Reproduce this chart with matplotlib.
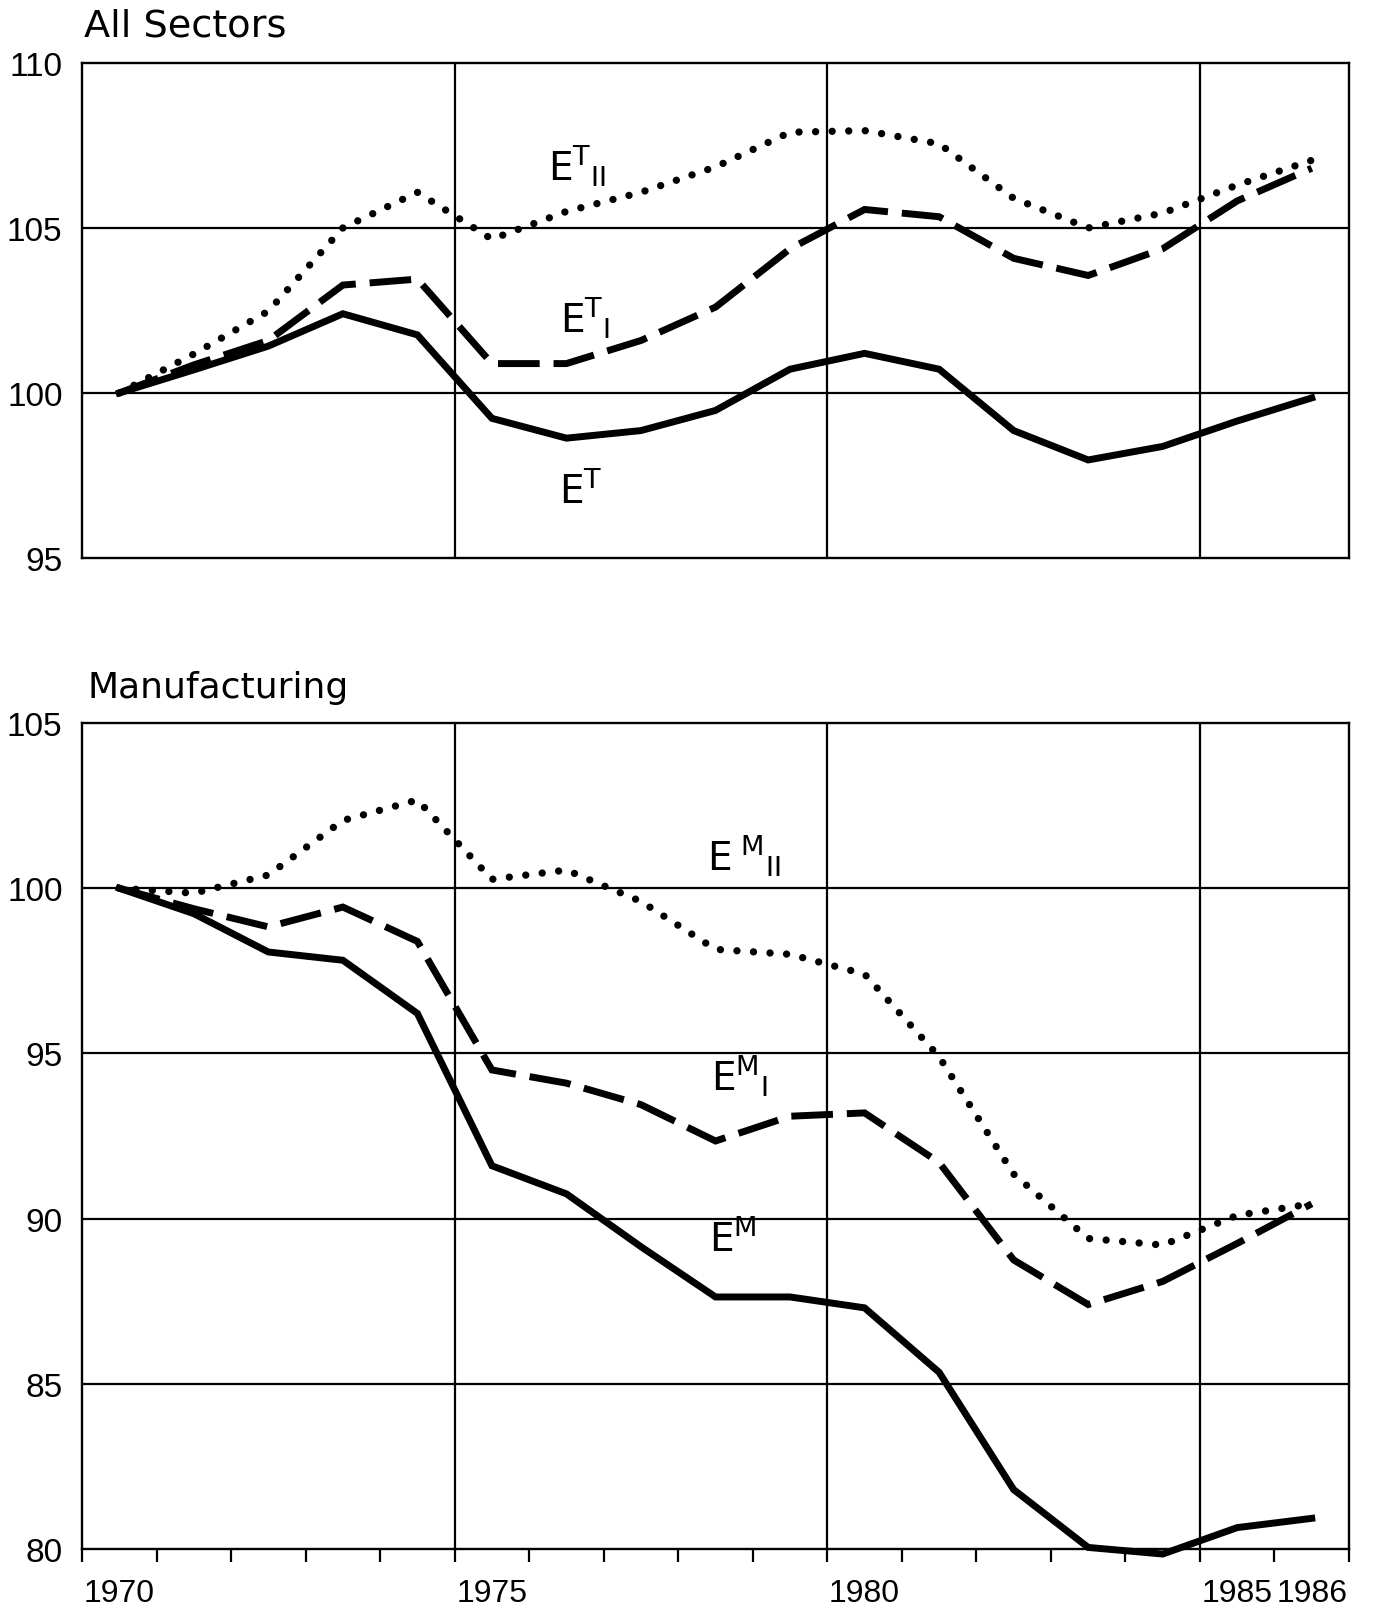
import matplotlib
matplotlib.use("Agg")
import matplotlib.pyplot as plt

# ---------------- data (index values, 1970 = 100) ----------------
years = list(range(1970, 1987))

# All sectors
e_t = [100.0, 100.7, 101.42, 102.4, 101.76, 99.23, 98.63, 98.86, 99.47,
       100.72, 101.2, 100.72, 98.86, 97.97, 98.38, 99.15, 99.85]
e_t_i = [100.0, 100.85, 101.59, 103.27, 103.45, 100.89, 100.89, 101.59, 102.6,
         104.37, 105.56, 105.34, 104.08, 103.56, 104.37, 105.82, 106.81]
e_t_ii = [100.0, 101.18, 102.48, 105.0, 106.08, 104.66, 105.5, 106.08, 106.85,
          107.9, 107.95, 107.55, 105.9, 105.0, 105.45, 106.3, 107.05]

# Manufacturing
e_m = [100.0, 99.23, 98.07, 97.82, 96.21, 91.6, 90.75, 89.15, 87.63,
       87.63, 87.3, 85.35, 81.8, 80.05, 79.85, 80.65, 80.93]
e_m_i = [100.0, 99.38, 98.83, 99.43, 98.39, 94.5, 94.1, 93.45, 92.35,
         93.1, 93.2, 91.7, 88.75, 87.4, 88.1, 89.25, 90.45]
e_m_ii = [100.0, 99.85, 100.4, 102.05, 102.67, 100.27, 100.55, 99.6, 98.15,
          98.0, 97.4, 94.9, 91.35, 89.4, 89.2, 90.1, 90.45]

xtick_labels = ["1970", "1975", "1980", "1985", "1986"]
label_years = [1970, 1975, 1980, 1985, 1986]
grid_years = [1975, 1980, 1985]

# ---------------- styling ----------------
plt.rcParams["font.family"] = ["DejaVu Sans"]
plt.rcParams["mathtext.default"] = "regular"
tick_font = ["Liberation Sans", "DejaVu Sans"]

LW = 5.0
solid = dict(color="black", lw=LW, solid_joinstyle="miter", clip_on=False)
dashed = dict(color="black", lw=LW, linestyle=(0, (6.0, 2.0)),
              dash_capstyle="butt", dash_joinstyle="miter", clip_on=False)
dotted = dict(color="black", lw=5.3, linestyle=(0, (0.001, 2.25)),
              dash_capstyle="round", clip_on=False)

fig = plt.figure(figsize=(13.76, 16.15), dpi=100)
ax1 = fig.add_axes([0.0596, 0.6539, 0.9208, 0.3065])
ax2 = fig.add_axes([0.0596, 0.0402, 0.9208, 0.5115])

xs = [y + 0.5 for y in years]  # annual values plotted at mid-year


def style_axes(ax, ylo, yhi):
    ax.set_xlim(1970, 1987)
    ax.set_ylim(ylo, yhi)
    ax.set_yticks(list(range(ylo, yhi + 1, 5)))
    ax.tick_params(axis="y", length=0, pad=14)
    for lab in ax.get_yticklabels():
        lab.set_family(tick_font)
        lab.set_fontsize(24)
    for s in ax.spines.values():
        s.set_linewidth(1.7)
        s.set_color("black")
    for yv in range(ylo + 5, yhi, 5):
        ax.axhline(yv, color="black", lw=1.6, zorder=1)
    for xv in grid_years:
        ax.axvline(xv, color="black", lw=1.6, zorder=1)


style_axes(ax1, 95, 110)
style_axes(ax2, 80, 105)

# top panel: no x ticks
ax1.set_xticks([])

# bottom panel: year ticks and mid-year labels
ax2.set_xticks(list(range(1970, 1988)))
ax2.set_xticklabels([])
ax2.tick_params(axis="x", which="major", direction="out", length=9,
                width=1.6)
ax2.set_xticks([y + 0.5 for y in label_years], minor=True)
ax2.set_xticklabels(xtick_labels, minor=True)
ax2.tick_params(axis="x", which="minor", length=0, pad=21)
for lab in ax2.get_xticklabels(minor=True):
    lab.set_family(tick_font)
    lab.set_fontsize(23)

# lines
ax1.plot(xs, e_t, **solid, zorder=3)
ax1.plot(xs, e_t_i, **dashed, zorder=3)
ax1.plot(xs, e_t_ii, **dotted, zorder=3)

ax2.plot(xs, e_m, **solid, zorder=3)
ax2.plot(xs, e_m_i, **dashed, zorder=3)
ax2.plot(xs, e_m_ii, **dotted, zorder=3)

# inline labels
lab_kw = dict(fontsize=28, va="baseline", ha="left", color="black")
ax1.text(1976.25, 106.45, r"$E^{T}{}_{II}$", **lab_kw)
ax1.text(1976.42, 101.85, r"$E^{T}{}_{I}$", **lab_kw)
ax1.text(1976.40, 96.7, r"$E^{T}$", **lab_kw)
ax2.text(1978.38, 100.55, r"$E^{\ M}{}_{II}$", **lab_kw)
ax2.text(1978.44, 93.9, r"$E^{M}{}_{I}$", **lab_kw)
ax2.text(1978.41, 89.05, r"$E^{M}$", **lab_kw)

# panel titles
fig.text(0.0614, 0.9777, "All Sectors", fontsize=27.5, va="baseline",
         ha="left")
fig.text(0.0636, 0.5678, "Manufacturing", fontsize=26, va="baseline",
         ha="left")

fig.savefig("out.png", dpi=100)
